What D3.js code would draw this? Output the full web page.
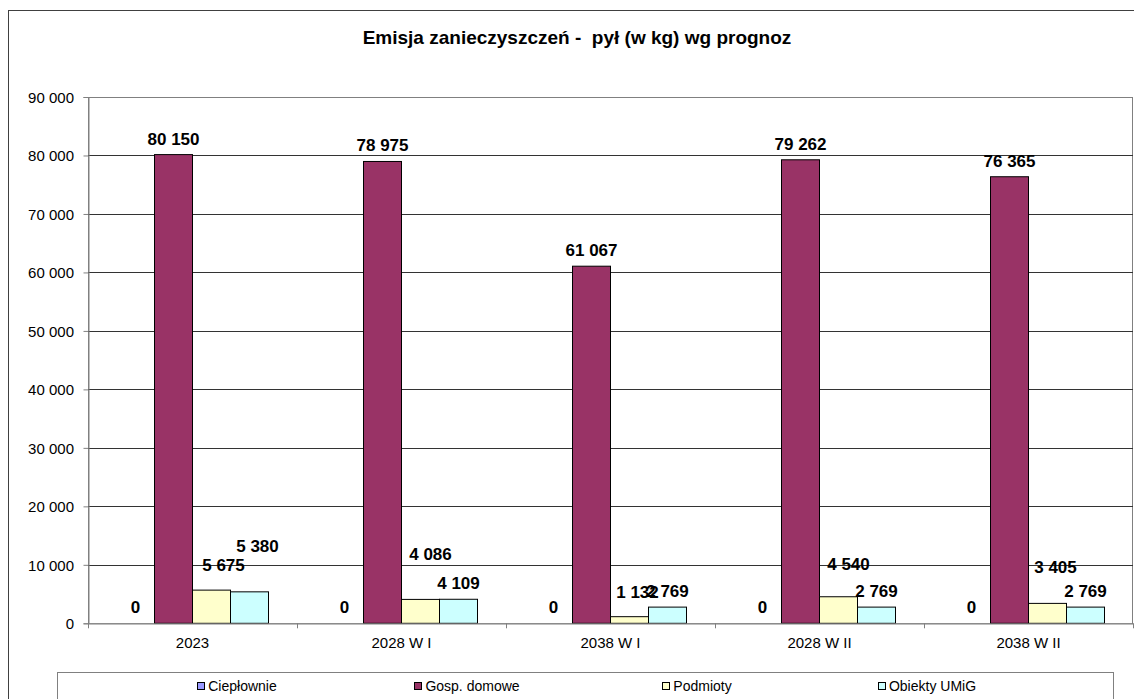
<!DOCTYPE html>
<html>
<head>
<meta charset="utf-8">
<script src="https://cdn.jsdelivr.net/npm/d3@7"></script>
<style>
  html, body { margin: 0; padding: 0; background: #fff; }
  svg { display: block; font-family: "Liberation Sans", Arial, sans-serif; }
</style>
</head>
<body>
<svg id="chart" width="1134" height="699"></svg>
<script>
// ---- data ----
const categories = ["2023", "2028 W I", "2038 W I", "2028 W II", "2038 W II"];
const seriesNames = ["Ciepłownie", "Gosp. domowe", "Podmioty", "Obiekty UMiG"];
const cieplownie = [0, 0, 0, 0, 0];
const gospDomowe = [80150, 78975, 61067, 79262, 76365];
const podmioty = [5675, 4086, 1132, 4540, 3405];
const obiektyUMiG = [5380, 4109, 2769, 2769, 2769];
const yTicks = [0, 10000, 20000, 30000, 40000, 50000, 60000, 70000, 80000, 90000];
const title = "Emisja zanieczyszczeń -  pył (w kg) wg prognoz";

// ---- styling / layout (not data) ----
const colors = ["#9999FF", "#993366", "#FFFFCC", "#CCFFFF"];
// manual nudges of some data labels (dx, dy in px), as moved in the original
const labelNudges = [
  [[0,0],[0,0],[0,0],[0,0],[0,0]],
  [[0,0],[0,0],[0,0],[0,0],[0,0]],
  [[12,-9],[10,-29],[8,-9],[10,-17],[8,-20]],
  [[8,-30],[0,0],[0,0],[0,0],[0,0]]
];

const allSeries = [cieplownie, gospDomowe, podmioty, obiektyUMiG];
const svg = d3.select("#chart");
const plot = { left: 88, right: 1133, top: 97, bottom: 623.3 };

const fmt = v => d3.format(",")(v).replace(/,/g, " ");

// outer chart frame
svg.append("rect").attr("x", 8.5).attr("y", 10.5).attr("width", 1200).attr("height", 800)
  .attr("fill", "#fff").attr("stroke", "#404040").attr("stroke-width", 1);

// title
svg.append("text").attr("x", 577).attr("y", 43.5).attr("text-anchor", "middle")
  .attr("font-weight", "bold").attr("font-size", 19).attr("fill", "#000")
  .attr("xml:space", "preserve").style("white-space", "pre").text(title);

const x0 = d3.scaleBand().domain(categories).range([plot.left, plot.right]).paddingInner(0).paddingOuter(0);
// bar width = band / 5.5 (Excel gap width 150%)
const bw = x0.bandwidth() / 5.5;
const barX = (ci, si) => x0(categories[ci]) + 0.75 * bw + si * bw;

const y = d3.scaleLinear().domain([0, 90000]).range([plot.bottom, plot.top]);

// plot area border
svg.append("rect").attr("x", plot.left + 0.5).attr("y", Math.round(plot.top) + 0.5)
  .attr("width", plot.right - plot.left - 1).attr("height", plot.bottom - plot.top)
  .attr("fill", "none").attr("stroke", "#808080");

// gridlines
svg.append("g").selectAll("line").data(yTicks.filter(t => t > 0 && t < 90000)).join("line")
  .attr("x1", plot.left).attr("x2", plot.right)
  .attr("y1", d => Math.round(y(d)) + 0.5).attr("y2", d => Math.round(y(d)) + 0.5)
  .attr("stroke", "#333").attr("stroke-width", 1);

// y axis
const yAxis = d3.axisLeft(y).tickValues(yTicks).tickSize(5).tickFormat(fmt);
const gy = svg.append("g").attr("transform", `translate(${plot.left + 0.5},0)`).call(yAxis);
gy.select(".domain").attr("stroke", "#808080");
gy.selectAll(".tick line").attr("stroke", "#808080");
gy.selectAll(".tick text").attr("font-size", 15).attr("fill", "#000")
  .attr("font-family", "Liberation Sans, Arial, sans-serif").attr("x", -14.5).attr("dy", "0.36em");

// bars
const barsG = svg.append("g");
allSeries.forEach((vals, si) => {
  barsG.append("g").selectAll("rect").data(vals).join("rect")
    .attr("x", (d, ci) => barX(ci, si))
    .attr("y", d => y(d))
    .attr("width", bw)
    .attr("height", d => plot.bottom - y(d))
    .attr("fill", colors[si])
    .attr("stroke", d => d > 0 ? "#000" : "none")
    .attr("stroke-width", 1);
});

// x axis
const xAxis = d3.axisBottom(x0).tickSize(0).tickFormat(d => d);
const gx = svg.append("g").attr("transform", `translate(0,${plot.bottom})`).call(xAxis);
gx.select(".domain").attr("stroke", "#808080");
gx.selectAll(".tick text").attr("font-size", 15).attr("fill", "#000")
  .attr("font-family", "Liberation Sans, Arial, sans-serif").attr("y", 14).attr("dy", "0.71em");
// category separator ticks
svg.append("g").selectAll("line").data(d3.range(categories.length + 1)).join("line")
  .attr("x1", i => Math.round(plot.left + i * x0.bandwidth()) + 0.5)
  .attr("x2", i => Math.round(plot.left + i * x0.bandwidth()) + 0.5)
  .attr("y1", plot.bottom).attr("y2", plot.bottom + 5)
  .attr("stroke", "#808080");

// data labels
const labelsG = svg.append("g");
allSeries.forEach((vals, si) => {
  labelsG.append("g").selectAll("text").data(vals).join("text")
    .attr("x", (d, ci) => barX(ci, si) + bw / 2 + labelNudges[si][ci][0])
    .attr("y", (d, ci) => y(d) - 10 + labelNudges[si][ci][1])
    .attr("text-anchor", "middle").attr("font-weight", "bold").attr("font-size", 17)
    .attr("fill", "#000").text(d => fmt(d));
});

// legend
svg.append("rect").attr("x", 57.5).attr("y", 672.5).attr("width", 1056).attr("height", 60)
  .attr("fill", "#fff").attr("stroke", "#808080");
const legCenter = 582, legSpacing = 230;
const legG = svg.append("g");
seriesNames.forEach((name, i) => {
  const g = legG.append("g");
  const t = g.append("text").attr("y", 691).attr("font-size", 14).attr("fill", "#000").text(name);
  const tw = t.node().getComputedTextLength();
  const itemW = 8 + 3 + tw;
  const cx = legCenter + (i - 1.5) * legSpacing;
  const left = cx - itemW / 2;
  g.append("rect").attr("x", Math.round(left) + 0.5).attr("y", 682.5).attr("width", 7).attr("height", 7)
    .attr("fill", colors[i]).attr("stroke", "#000");
  t.attr("x", left + 11);
});
</script>
</body>
</html>
